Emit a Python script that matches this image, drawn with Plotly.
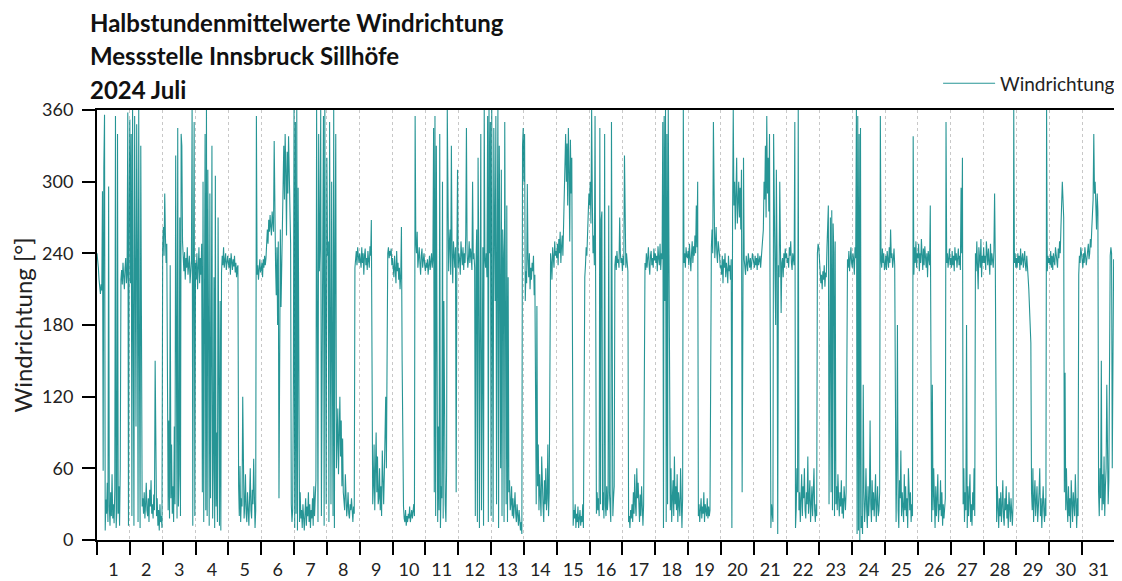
import plotly.graph_objects as go

# Half-hourly wind direction values (degrees), one list per day of July 2024
d01 = [240,236,228,218,212,206,214,209, 292,58,312,356, 8,34,22,48,15,296,28,12,40,20,55,18,
       30,14,42,355,10,25,340,22,45,12,60, 218,226,214,232,221,210,228,236,215,224, 358,12,275]
d02 = [352,215,340,20,360,180,12,355,230,95,348,250,15,360,160,10,330,45,
       28,35,22,40,18,30,48,25,20,35,15,42,28,50,22,30,18,38,25,150,30,20,35, 12,25,8,30,15,20,10]
d03 = [245,262,238,290,255,232,248, 60,25,100,18,230,35,80,22,45,15,95,30,
       322,40,18,345,28,55,270,20,340,330,250, 232,225,241,218,236,228,245,222,230,238,215,227,234,
       360,12,225,350,20]
d04 = [232,218,240,210,228,245,215,236,222,248,
       40,300,15,250,340,25,360,20,310,180,12,290,35,150,330,18,60,220,10,305,28,90,15,270,40,12,200,8,
       224,238,230,245,228,236,240,226,234,238]
d05 = [232,228,236,222,240,231,226,235,229,238,224,232,220,228,230,
       45,20,62,15,35,28,120,40,18,30,55,22,15,40,28,12,35,60,25,18,42,30,68,20,10,25,
       355, 222,230,218,228,235,224]
d06 = [226,232,220,235,228,238,230,236, 252,260,248,268,258,272,262,255,275,265,258, 334,240,
       230,205,245,180,250,35,215,260,195,240,255, 300,330,285,340,310,255,325,290,338,300,262,
       248,30,15,25,128]
d07 = [360,10,350,22,360,8,295,30,15,40,
       18,25,10,30,15,8,22,35,12,28,20,40,15,30,10,25,18,35,12,45,20,30,50,
       360,240,15,340,225,250,360,20,230,245,355,12,360,200,30]
d08 = [320,238,250,15,350,225,30,300,180,20,360,10,245,340,
       60,95,110,55,80,120,70,100,45,85,40,30,25,55,35,20,28,40,22,18,30,25,35,20,15,28,22,
       228,236,242,230,245,238,232]
d09 = [240,236,228,245,232,240,222,238,244,230,236,226,242,234,228,246,238,
       268,60,30,45,80,25,55,90,40,70,30,35,60,25,45,20,75,40,30,55,85,120,60,
       232,240,245,236,242,238,244,230]
d10 = [236,228,220,238,230,215,242,225,232,218,228,210,222,262,
       150,40,28,18,15,25,12,20,15,22,18,28,15,20,25,18,22,30,20,
       355, 250,240,258,228,236,245,232,222,238,244,228,235,240,230]
d11 = [225,232,228,235,222,230,238,226,232,240,228,236,345,
       40,355,20,330,60,15,95,25,340,10,45,35,300,18,200,50,30,15,60,
       360,235,225,248,260,222,330,240,215,250,232,228,245,40,238,310]
d12 = [228,240,235,222,250,238,230,245,226,240,232,255,345,240,228,236,250,232,244,238,226,300,235,240,228,
       20,230,260,15,320,235,10,180,340,25,230,245,12,360,236,228,240,220,355,15,360,240,350]
d13 = [20,360,230,15,345,250,200,355,30,240,360,10,330,225,60,310,20,260,240,15,350,200,30,280,15,220,
       40,50,25,30,45,20,35,18,28,40,22,15,30,20,12,25,10,8,15,5,330,345]
d14 = [300,340,200,225,215,298,235,220,240,210,228,218,232,225,238,205,222,
       60,30,196,45,80,25,55,35,20,70,40,28,15,50,30,60,25,35,80,20,40,
       225,240,232,218,245,236,228,250,238,242]
d15 = [236,248,230,252,240,258,232,246,255,238,262,270,320,340,300,332,280,345,310,250,335,290,320,
       20,12,25,18,30,10,22,15,28,10,18,25,12,20,15,30,10,
       205,220,230,245,238,255,270,290]
d16 = [280,300,265,360,285,240,255,230,
       355,30,22,40,25,35,20,345,30,268,275,25,40,18,340,30,20,45,25,35,280,40,30,15,350,28,20,35,45,
       230,238,226,242,232,235,228,270,240,232,236]
d17 = [225,238,230,322,235,228,240,232,225,
       15,20,10,25,18,30,15,40,22,55,30,20,60,35,48,25,15,38,20,45,28,12,30,
       220,232,226,240,228,236,245,230,222,238,242,230,236,228,244,234]
d18 = [240,232,238,225,246,236,230,248,226,240,235,
       350,10,355,200,360,15,340,30,360,220,
       40,25,60,15,35,50,20,70,30,45,25,55,15,40,30,20,60,25,10,35,
       360, 232,240,228,245,238,236]
d19 = [242,230,248,236,225,240,250,232,246,238,255,240,280,245,300,
       20,30,15,25,35,18,28,22,40,15,30,25,20,35,18,28,20,25,
       230,245,260,240,350,255,236,248,262,240,232,250,245,238,228]
d20 = [230,222,238,215,235,228,240,220,232,226,215,238,225,230,218,235,10,
       270,360,280,300,260,290,320,265,285,300,270,295,260,310,40,280,
       320,235,228,222,238,230,225,240,232,228,236,226,232,240,236]
d21 = [232,228,238,230,236,226,240,230,234,238,228,236,240,245,
       260,300,285,330,270,355,290,320,275,340,
       20,10,30,25,15,
       340,238,225,180,310,240,5,230,220,300,245,190,232,236,220,240,228,244,236]
d22 = [240,232,236,228,245,238,250,232,226,240,236,230,
       350,10,25,60,40,360,
       25,40,15,30,55,20,45,35,60,25,18,40,30,70,22,35,50,15,28,45,20,38,60,25,15,30,20,
       240,248,245]
d23 = [236,228,215,222,210,225,218,230,212,224,220,
       245,260,280,30,255,270,40,276,25,265,240,20,250,
       30,45,25,55,35,20,40,28,50,22,35,18,45,30,25,40,
       218,235,228,242,225,238,245,232]
d24 = [228,240,235,222,245,236,
       360,5,355,8,340,0,345,10,
       20,5,130,40,15,30,60,25,10,45,20,35,100,30,15,50,25,40,20,35,55,15,30,45,20,25,40,
       355, 235,228,244,232,240,226]
d25 = [230,238,226,242,235,228,245,232,260,236,240,228,235,244,230,
       40,15,60,180,25,10,50,35,75,20,40,30,15,55,25,45,20,35,10,60,30,25,40,15,30,20,
       338, 222,245,232,250,228,240]
d26 = [236,248,225,240,232,252,238,226,244,230,246,235,228,240,220,242,236,230,280,
       40,15,130,25,60,30,10,45,20,35,55,15,30,25,50,20,40,12,30,18,25,35,
       350, 232,240,228,236,244,230]
d27 = [236,228,242,230,238,225,245,234,240,228,236,244,230,238,226,295,240,320,
       30,60,15,40,25,180,10,45,20,35,55,15,30,12,40,25,60,20,
       240,225,250,232,210,245,236,228,252,220,238,232]
d28 = [245,232,238,226,250,240,230,244,236,222,248,230,240,235,228,242,290,236,
       30,15,45,25,10,35,20,40,15,28,50,20,12,35,25,45,18,30,10,40,22,15,35,25,12,30,
       360, 232,240,228]
d29 = [236,228,240,232,238,226,244,230,236,240,228,235,242,230,225,238,232,220,210,195,180,165,
       40,25,60,15,35,50,20,30,45,15,25,40,60,20,35,10,30,45,25,15,35,20,
       360, 225,238,232]
d30 = [236,230,242,228,238,226,240,234,230,245,238,232,228,244,236,250,240,262,275,300,285,270,
       40,140,25,60,30,15,45,20,35,10,50,25,15,40,30,20,55,25,10,35,20,
       222,238,232,245,240]
d31 = [236,228,240,232,245,238,230,236,242,248,235,240,252,245,260,270,
       285,340,290,300,280,260,290,275,
       40,20,60,35,150,25,55,30,70,20,45,60,130,40,30,50,
       220,238,245,240,60,200,235,210]

days = [d01,d02,d03,d04,d05,d06,d07,d08,d09,d10,d11,d12,d13,d14,d15,d16,
        d17,d18,d19,d20,d21,d22,d23,d24,d25,d26,d27,d28,d29,d30,d31]
day_labels = [str(i) for i in range(1, 32)]
y_ticks = [0, 60, 120, 180, 240, 300, 360]

xs, ys = [], []
for di, vals in enumerate(days):
    n = len(vals)
    for i, v in enumerate(vals):
        xs.append(di + i / n)
        ys.append(v)

fig = go.Figure()
fig.add_trace(go.Scatter(x=xs, y=ys, mode="lines", name="Windrichtung",
                         line=dict(color="rgba(0,130,130,0.85)", width=1.1)))

# page body has an 8px margin, so the figure is slightly smaller than the window
fig.update_layout(
    width=1114, height=573,
    margin=dict(l=89, r=7, t=102, b=41, autoexpand=False),
    plot_bgcolor="white", paper_bgcolor="white",
    font=dict(family="Lato, Open Sans, sans-serif", color="#111"),
    showlegend=True,
    legend=dict(x=1.005, xanchor="right", y=1.062, yanchor="middle",
                font=dict(size=19, color="#222"), bgcolor="rgba(0,0,0,0)",
                itemwidth=52),
)

fig.update_xaxes(
    range=[0, 31], automargin=False,
    tickmode="array",
    tickvals=[i + 0.5 for i in range(31)],
    ticktext=day_labels,
    ticks="",
    ticklabelstandoff=12,
    showgrid=False,
    tickfont=dict(size=18, color="#222"),
    showline=True, linecolor="black", linewidth=2, mirror=True,
    zeroline=False,
    minor=dict(tickmode="linear", tick0=0, dtick=1, ticks="outside", ticklen=13,
               tickwidth=2, tickcolor="black", showgrid=True,
               gridcolor="#c8c8c8", griddash="dot", gridwidth=1),
)
fig.update_yaxes(
    range=[0, 360], automargin=False,
    tickmode="array", tickvals=y_ticks,
    ticks="outside", ticklen=13, tickwidth=2, tickcolor="black",
    ticklabelstandoff=5,
    showgrid=False, zeroline=False,
    tickfont=dict(size=18, color="#222"),
    showline=True, linecolor="black", linewidth=2, mirror=True,
    title=dict(text="Windrichtung [°]", font=dict(size=24, color="#222"), standoff=10),
)

titles = ["Halbstundenmittelwerte Windrichtung", "Messstelle Innsbruck Sillhöfe", "2024 Juli"]
ty = [1.203, 1.126, 1.047]
for t, y in zip(titles, ty):
    fig.add_annotation(text="<b>" + t + "</b>", xref="paper", yref="paper",
                       x=-0.009, y=y, xanchor="left", yanchor="middle",
                       showarrow=False, font=dict(size=24, color="#111"))

fig.write_html("out.html")
